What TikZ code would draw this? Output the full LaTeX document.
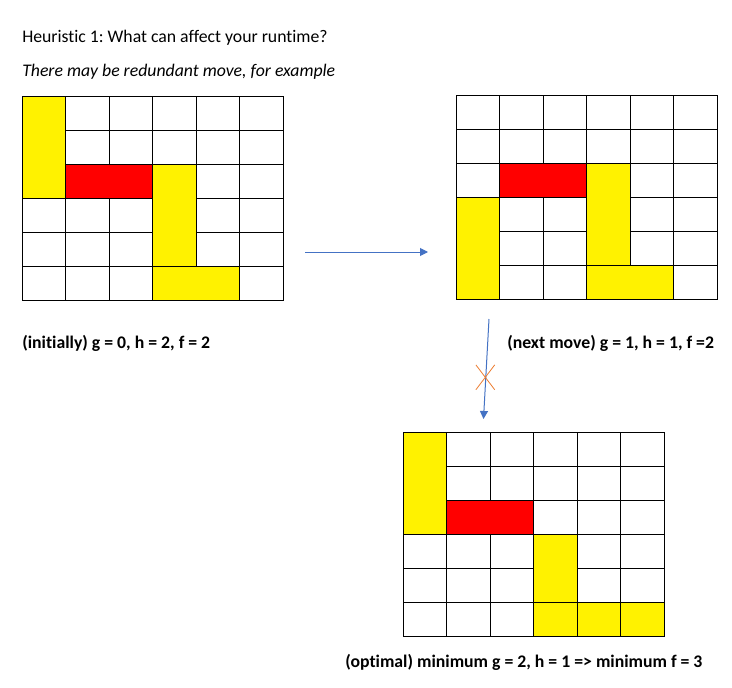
\documentclass[tikz,border=0pt]{standalone}
\usepackage{fontspec}
\setmainfont{Carlito}[Ligatures=CommonOff]
\frenchspacing
\usetikzlibrary{arrows.meta, shapes.misc}
\definecolor{arrowblue}{RGB}{68,114,196}
\definecolor{crossorange}{RGB}{237,125,49}
\tikzstyle{cell} = [draw=black, line width=0.8pt]
\tikzstyle{car} = [fill=yellow, draw=black, line width=0.8pt]
\tikzstyle{redcar} = [fill=red, draw=black, line width=0.8pt]
\tikzstyle{heading} = [anchor=west, inner sep=0pt, font=\fontsize{13.3pt}{16pt}\selectfont]
\tikzstyle{score} = [anchor=west, inner sep=0pt, font=\fontsize{13.3pt}{16pt}\selectfont\bfseries]
\tikzstyle{arrow} = [draw=arrowblue, line width=0.75pt, -{Triangle[length=6pt, width=6pt]}]
\def\cw{43.5}
\def\ch{34}

\begin{document}
\begin{tikzpicture}[x=0.75pt, y=-0.75pt]

        \useasboundingbox[fill=white] (0,0) rectangle (732,688);

        \node (title) [heading] at (22,38) {Heuristic 1: What can affect your runtime?};
        \node (sub) [heading, font=\fontsize{13.3pt}{16pt}\selectfont\itshape] at (22,72) {There may be redundant move, for example};

        % initial board
        \begin{scope}[shift={(22.3,96.3)}]
            \foreach \c in {0,...,5}
                \foreach \r in {0,...,5}
                    \draw [cell] (\c*\cw,\r*\ch) rectangle ++(\cw,\ch);
            \draw [car] (0,0) rectangle (\cw,3*\ch);
            \draw [redcar] (\cw,2*\ch) rectangle (3*\cw,3*\ch);
            \draw [car] (3*\cw,2*\ch) rectangle (4*\cw,5*\ch);
            \draw [car] (3*\cw,5*\ch) rectangle (5*\cw,6*\ch);
        \end{scope}

        % next move
        \begin{scope}[shift={(456.3,95.3)}]
            \foreach \c in {0,...,5}
                \foreach \r in {0,...,5}
                    \draw [cell] (\c*\cw,\r*\ch) rectangle ++(\cw,\ch);
            \draw [car] (0,3*\ch) rectangle (\cw,6*\ch);
            \draw [redcar] (\cw,2*\ch) rectangle (3*\cw,3*\ch);
            \draw [car] (3*\cw,2*\ch) rectangle (4*\cw,5*\ch);
            \draw [car] (3*\cw,5*\ch) rectangle (5*\cw,6*\ch);
        \end{scope}

        % optimal
        \begin{scope}[shift={(403.3,432.3)}]
            \foreach \c in {0,...,5}
                \foreach \r in {0,...,5}
                    \draw [cell] (\c*\cw,\r*\ch) rectangle ++(\cw,\ch);
            \draw [car] (0,0) rectangle (\cw,3*\ch);
            \draw [redcar] (\cw,2*\ch) rectangle (3*\cw,3*\ch);
            \draw [car] (3*\cw,3*\ch) rectangle (4*\cw,5*\ch);
            \foreach \c in {3,4,5}
                \draw [car] (\c*\cw,5*\ch) rectangle ++(\cw,\ch);
        \end{scope}

        \node (s1) [score] at (22,343) {(initially) g = 0, h = 2, f = 2};
        \node (s2) [score] at (507,343) {(next move) g = 1, h = 1, f =2};
        \node (s3) [score] at (345,662) {(optimal) minimum g = 2, h = 1 => minimum f = 3};

        \coordinate (a1) at (305,252);
        \coordinate (b1) at (428,252);
        \coordinate (a2) at (489,319);
        \coordinate (b2) at (483.5,419);
        \draw [arrow] (a1) -- (b1);
        \draw [arrow] (a2) -- (b2);

        \node (cross) [cross out, draw=crossorange, line width=0.6pt, minimum width=13.5pt, minimum height=18pt, inner sep=0pt] at (485.3,377.3) {};

    \end{tikzpicture}
\end{document}
